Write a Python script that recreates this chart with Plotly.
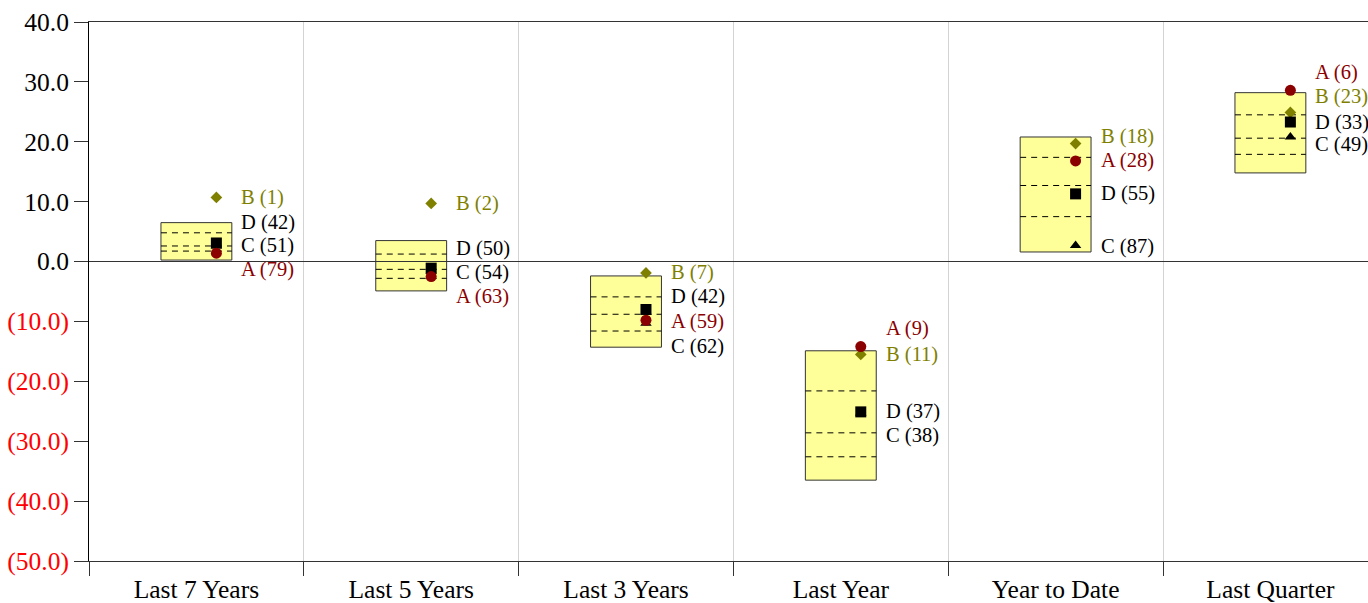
import plotly.graph_objects as go

# ---------------- data ----------------
categories = ["Last 7 Years", "Last 5 Years", "Last 3 Years", "Last Year", "Year to Date", "Last Quarter"]

# percentile box (top edge, quartile lines, bottom edge)
p_top = [6.5, 3.5, -2.4, -14.9, 20.8, 28.2]
p_q1 = [4.8, 1.25, -5.9, -21.6, 17.4, 24.5]
p_med = [2.6, -1.3, -8.8, -28.6, 12.7, 20.6]
p_q3 = [1.75, -2.8, -11.6, -32.6, 7.5, 17.9]
p_bot = [0.25, -4.9, -14.3, -36.5, 1.6, 14.8]

# series values and ranks
a_vals = [1.4, -2.5, -9.8, -14.2, 16.8, 28.6]
a_rank = [79, 63, 59, 9, 28, 6]
b_vals = [10.7, 9.7, -1.9, -15.5, 19.7, 24.9]
b_rank = [1, 2, 7, 11, 18, 23]
c_vals = [2.6, -1.6, -10.3, -25.3, 2.7, 20.8]
c_rank = [51, 54, 62, 38, 87, 49]
d_vals = [3.1, -1.1, -8.0, -25.1, 11.3, 23.3]
d_rank = [42, 50, 42, 37, 55, 33]

y_ticks = [40, 30, 20, 10, 0, -10, -20, -30, -40, -50]

# ---------------- layout helpers (label placement, data units) ----------------
a_label_y = [-1.4, -5.9, -10.0, -11.1, 16.8, 31.5]
b_label_y = [10.77, 9.77, -1.8, -15.5, 20.8, 27.5]
c_label_y = [2.6, -1.9, -14.1, -29.0, 2.5, 19.5]
d_label_y = [6.6, 2.1, -5.9, -25.1, 11.3, 23.3]

BOX_HALF = 0.165
MARK_DX = 0.093
LABEL_DX = 0.2
FONT = "Liberation Serif, Times New Roman, serif"
TICK_SIZE = 25.5
LABEL_SIZE = 20.5

x_idx = list(range(len(categories)))
mx = [i + MARK_DX for i in x_idx]

fig = go.Figure()

series = [
    ("B", b_vals, b_rank, b_label_y, "diamond", 9, "#808000"),
    ("C", c_vals, c_rank, c_label_y, "triangle-up", 10, "#000000"),
    ("D", d_vals, d_rank, d_label_y, "square", 11, "#000000"),
    ("A", a_vals, a_rank, a_label_y, "circle", 11, "#8B0000"),
]

for name, vals, ranks, _, sym, size, col in series:
    fig.add_trace(go.Scatter(
        x=mx, y=vals, mode="markers", name=name,
        marker=dict(symbol=sym, size=size, color=col, line=dict(width=0)),
        showlegend=False, hoverinfo="skip",
    ))

shapes = []
for i in x_idx:
    shapes.append(dict(type="rect", xref="x", yref="y",
                       x0=i - BOX_HALF, x1=i + BOX_HALF, y0=p_bot[i], y1=p_top[i],
                       fillcolor="#FFFF99", line=dict(color="#333333", width=1), layer="below"))
    for v in (p_q1[i], p_med[i], p_q3[i]):
        shapes.append(dict(type="line", xref="x", yref="y",
                           x0=i - BOX_HALF, x1=i + BOX_HALF, y0=v, y1=v,
                           line=dict(color="#000000", width=1, dash="6px,5px"), layer="below"))

annotations = []
for name, vals, ranks, labys, sym, size, col in series:
    for i in x_idx:
        annotations.append(dict(
            x=i + LABEL_DX, y=labys[i], xref="x", yref="y",
            text=f"{name} ({ranks[i]})", showarrow=False,
            xanchor="left", yanchor="middle",
            font=dict(family=FONT, size=LABEL_SIZE, color=col),
        ))

def fmt(v):
    if v < 0:
        return f"<span style='color:#FF0000'>({abs(v):.1f})</span>"
    return f"{v:.1f}"

fig.update_layout(
    width=1368, height=603,
    margin=dict(l=89, r=0, t=22, b=42, pad=0, autoexpand=False),
    paper_bgcolor="white", plot_bgcolor="white",
    shapes=shapes, annotations=annotations,
    font=dict(family=FONT, size=TICK_SIZE, color="#000000"),
    xaxis=dict(
        range=[-0.5, -0.5 + 1279 / 214.8],
        tickmode="array", tickvals=x_idx, ticktext=categories,
        ticks="outside", ticklen=5, tickcolor="rgba(0,0,0,0)",
        showgrid=False, zeroline=False, automargin=False,
        showline=True, linecolor="#333333", linewidth=1, mirror=True,
        tickfont=dict(family=FONT, size=TICK_SIZE, color="#000000"),
        minor=dict(tickmode="array", tickvals=[-0.5, 0.5, 1.5, 2.5, 3.5, 4.5],
                   ticks="outside", ticklen=14, tickcolor="#333333", tickwidth=1,
                   showgrid=True, gridcolor="#D3D3D3", gridwidth=1),
        fixedrange=True,
    ),
    yaxis=dict(
        range=[-50, 40],
        tickmode="array", tickvals=y_ticks, ticktext=[fmt(v) for v in y_ticks],
        ticks="outside", ticklen=14, tickcolor="#333333",
        showgrid=False, automargin=False,
        zeroline=True, zerolinecolor="#333333", zerolinewidth=1,
        showline=True, linecolor="#000000", linewidth=1,
        tickfont=dict(family=FONT, size=TICK_SIZE, color="#000000"),
        fixedrange=True,
    ),
)

fig.write_html("out.html", config={"displayModeBar": False},
               post_script="document.body.style.margin='0';document.body.style.overflow='hidden';")
